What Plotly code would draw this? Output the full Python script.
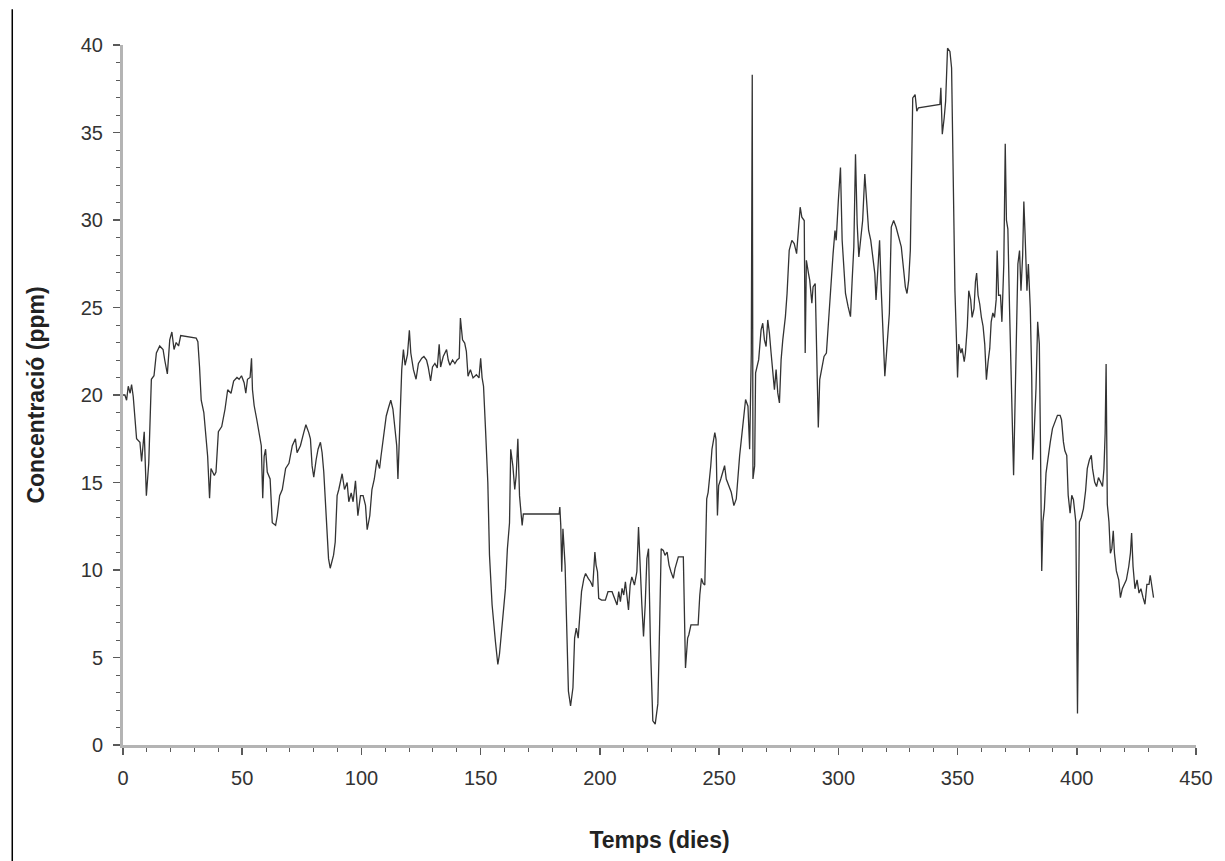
import plotly.graph_objects as go

# Time (days) and concentration (ppm)
dies = [
    0.0, 0.8, 1.5, 2.2, 3.0, 3.6, 4.3, 5.7, 7.1, 7.8, 8.9, 9.8, 10.8, 11.9, 13.0, 14.0, 15.4, 16.8,
    17.5, 18.6, 19.6, 20.5, 21.4, 22.3, 23.3, 24.2, 30.7, 31.4, 32.1, 32.8, 33.9, 34.4, 35.5, 36.3,
    36.9, 38.3, 39.0, 40.0, 41.4, 42.8, 43.9, 45.3, 46.4, 47.8, 48.7, 49.7, 50.8, 51.5, 52.2, 53.3,
    53.9, 54.3, 55.0, 56.1, 57.1, 58.0, 58.6, 59.2, 59.8, 60.5, 61.7, 62.6, 64.0, 64.7, 65.7, 66.8,
    68.2, 69.6, 71.0, 72.3, 73.0, 74.4, 75.8, 76.7, 77.9, 78.6, 79.3, 80.0, 81.0, 81.8, 82.8, 83.5,
    84.2, 85.3, 86.2, 86.9, 88.3, 89.0,
    89.8, 90.5, 91.9, 92.9, 94.0, 94.7, 95.7, 96.5, 97.5, 98.5, 99.6, 100.7, 101.7, 102.4, 103.5,
    104.4, 105.4, 106.5, 107.6, 108.2, 109.3, 110.4, 111.4, 112.3, 113.2, 114.1, 114.8, 115.3, 116.2,
    116.9, 117.6, 118.3, 119.3, 120.1, 120.7, 121.8, 122.9, 123.9, 125.3, 126.2, 127.3, 128.0, 129.0,
    129.8, 130.8, 131.8, 132.6, 133.2, 134.3, 135.7, 136.4, 137.1, 138.2, 139.2, 140.1, 141.0, 141.5,
    142.4, 143.3, 144.0, 144.7, 145.7, 146.8, 148.2, 149.3, 150.0, 150.6, 151.2, 152.1, 153.0, 153.7,
    154.8, 156.2, 157.2, 157.9, 158.6, 159.6, 160.4, 161.2, 162.1, 162.6, 163.5, 164.3, 164.9, 165.6,
    166.3, 166.9, 167.4, 167.9, 182.5,
    182.9, 183.2, 183.6, 184.0, 184.5, 185.4, 185.9, 186.8, 187.7, 188.7, 189.4, 190.1, 190.9, 191.5,
    192.3, 193.3, 194.0, 195.1, 196.1, 197.0, 197.9, 198.4, 199.0, 199.5, 200.7, 202.3, 203.4, 205.1,
    206.2, 207.2, 207.9, 208.6, 209.3, 210.0, 210.7, 211.4, 212.0, 212.7, 213.4, 214.5, 215.5, 216.2,
    216.9, 217.6, 218.3, 219.0, 219.7, 220.4, 221.2, 222.2, 223.2, 224.3, 224.8, 225.7, 226.6, 227.3,
    228.2, 229.0, 229.8, 230.8, 231.5, 232.2, 232.9, 235.0, 235.4, 235.9, 236.8, 237.3, 238.2, 241.2,
    241.9, 242.6, 243.3, 244.0, 244.8, 245.4, 246.5, 247.0, 248.2, 248.7, 249.3, 249.8, 250.7, 251.6,
    252.3, 253.0, 254.0, 255.1, 256.2,
    257.2, 258.6, 260.0, 261.1, 262.1, 262.8, 263.5, 263.9, 264.2, 264.9, 265.3, 265.8, 266.6, 267.6,
    268.3, 269.0, 269.7, 270.4, 271.1, 271.8, 272.5, 273.2, 273.9, 274.6, 275.3, 276.0, 276.7, 277.8,
    278.5, 279.4, 280.5, 281.5, 282.5, 283.3, 284.0, 284.7, 285.7, 286.1, 286.6, 287.5, 288.0, 288.9,
    289.4, 290.3, 290.8, 291.6, 292.2, 293.0, 294.0, 295.0, 295.8, 296.8, 297.8, 298.6, 299.1, 300.0,
    300.9, 301.6, 302.3, 303.0, 304.1, 305.1, 305.8, 306.5, 307.2, 307.9, 308.6, 309.3, 310.2, 311.1,
    311.9, 312.7, 313.6, 314.4, 315.3, 315.8, 316.6, 317.3, 318.0, 318.7, 319.5, 320.0, 320.8, 321.4,
    322.2, 323.2, 324.2, 325.3, 326.4, 327.4, 328.1, 328.8, 329.5, 330.2, 330.8, 331.2, 332.2, 332.9,
    333.6, 342.6, 343.0, 343.6, 344.4, 345.0, 345.8, 346.8, 347.5,
    348.2, 348.9, 349.6, 350.0, 350.5, 351.4, 351.9, 352.8, 353.3, 354.1, 354.7, 355.5, 356.1, 356.9,
    357.5, 358.0, 358.6, 359.3, 360.0, 360.7, 361.4, 362.1, 362.8, 363.5, 364.1, 364.8, 365.5, 366.2,
    366.6, 367.2, 368.0, 368.6, 369.4, 370.0, 370.5, 371.1, 371.8, 372.5, 372.9, 373.5, 373.9, 374.6,
    375.3, 376.0, 376.6, 377.3, 377.8, 378.3, 379.1, 379.7, 380.5, 381.1, 381.5, 382.2, 382.9, 383.6,
    384.3, 384.7, 385.3, 385.8, 386.4, 387.1, 387.8, 388.9, 389.8, 390.8, 391.9, 393.0, 393.6, 394.4,
    395.0, 395.8, 396.4, 397.2, 397.9, 398.6, 399.6, 400.3, 400.7, 401.1, 401.9, 402.8, 403.7, 404.4,
    405.3, 406.1, 406.6, 407.5, 408.3, 409.1, 410.0, 410.8, 411.4, 411.9, 412.3, 412.8, 413.5, 414.1,
    414.7, 415.3, 415.8, 416.6, 417.6, 418.3, 419.1, 420.0, 420.8, 421.8, 422.5, 423.0, 423.6, 424.4,
    425.3, 426.1, 426.9, 427.8, 428.6, 429.4, 430.3, 430.8, 431.6, 432.2,
]

concentracio = [
    20.0, 20.0, 19.7, 20.5, 20.1, 20.6, 19.9, 17.5, 17.3, 16.2, 17.9, 14.25, 16.1, 20.9, 21.1, 22.4,
    22.8, 22.6, 22.0, 21.2, 23.15, 23.6, 22.6, 23.0, 22.8, 23.4, 23.25, 23.05, 21.6, 19.7, 19.0, 18.2,
    16.5, 14.1, 15.8, 15.4, 15.6, 17.9, 18.2, 19.2, 20.3, 20.1, 20.8, 21.0, 20.9, 21.1, 20.7, 20.1,
    20.9, 21.0, 22.1, 20.3, 19.4, 18.6, 17.7, 17.1, 14.1, 16.5, 16.9, 15.6, 15.2, 12.7, 12.55, 13.1,
    14.25, 14.6, 15.8, 16.1, 17.1, 17.5, 16.7, 17.1, 17.85, 18.3, 17.85, 17.5, 15.95, 15.3, 16.3,
    16.9, 17.3, 16.7, 15.6, 13.1, 10.65, 10.1, 10.85, 11.6,
    14.25, 14.6, 15.5, 14.6, 15.0, 13.9, 14.4, 13.9, 15.1, 13.1, 14.25, 14.25, 13.7, 12.3, 13.1,
    14.6, 15.2, 16.3, 15.8, 16.5, 17.7, 18.8, 19.3, 19.7, 19.2, 18.0, 17.1, 15.2, 18.4, 21.45, 22.6,
    21.7, 22.3, 23.7, 22.4, 21.45, 20.9, 21.8, 22.1, 22.2, 22.0, 21.6, 20.8, 21.6, 21.8, 21.55, 22.9,
    21.6, 22.2, 22.6, 22.0, 21.7, 22.0, 21.8, 22.0, 22.1, 24.4, 23.15, 22.97, 22.5, 21.07, 21.45,
    20.98, 21.16, 20.98, 22.1, 20.98, 20.5, 17.85, 15.0, 10.85, 8.0, 5.9, 4.6, 5.2, 6.3, 7.8, 8.95,
    11.2, 12.7, 16.9, 15.95, 14.6, 15.4, 17.5, 14.25, 13.3, 12.55, 13.2, 13.2,
    13.2, 13.6, 12.55, 9.9, 12.36, 10.28, 7.05, 3.08, 2.23, 3.27, 6.11, 6.68, 6.11, 7.43, 8.76, 9.52,
    9.8, 9.52, 9.33, 9.05, 11.03, 10.28, 9.9, 8.38, 8.28, 8.28, 8.76, 8.76, 8.38, 8.0, 8.76, 8.19,
    8.95, 8.57, 9.33, 8.19, 7.72, 9.14, 9.61, 9.14, 9.9, 12.45, 9.9, 8.0, 6.2, 8.0, 10.65, 11.22,
    5.73, 1.38, 1.19, 2.35, 5.16, 11.22, 11.12, 10.84, 11.03, 10.28, 9.9, 9.52, 10.08, 10.46, 10.75,
    10.75, 8.38, 4.4, 6.11, 6.3, 6.86, 6.86, 8.57, 9.52, 9.23, 9.14, 14.06, 14.44, 15.96, 16.9, 17.85,
    17.47, 13.11, 14.82, 15.2, 15.58, 15.96, 15.2, 14.82, 14.44, 13.68,
    14.06, 16.52, 18.42, 19.74, 19.36, 16.9, 22.4, 38.3, 15.2, 15.95, 21.26, 21.64, 22.02, 23.72,
    24.1, 23.15, 22.77, 24.29, 23.53, 22.4, 21.26, 20.31, 21.45, 20.12, 19.55, 22.02, 23.15, 24.48,
    25.8, 28.27, 28.84, 28.65, 28.08, 29.6, 30.73, 30.16, 29.97, 22.4, 27.7, 26.94, 26.56, 25.24,
    26.18, 26.37, 23.15, 18.14, 20.88, 21.45, 22.2, 22.4, 24.1, 26.37, 28.08, 29.4, 28.84, 31.1,
    33.0, 28.84, 27.32, 25.8, 25.05, 24.48, 26.56, 28.46, 33.76, 29.78, 27.89, 28.84, 29.97, 32.62,
    31.1, 29.4, 28.84, 27.89, 26.94, 25.43, 26.94, 28.84, 26.0, 23.15, 21.07, 22.0, 23.72, 24.67,
    29.6, 29.97, 29.6, 29.03, 28.46, 27.13, 26.18, 25.8, 26.56, 28.27, 34.52, 36.98, 37.17, 36.22,
    36.41, 36.6, 37.55, 34.9, 35.84, 36.79, 39.82, 39.63, 38.69,
    31.25, 25.96, 22.91, 21.0, 22.91, 22.4, 22.66, 21.9, 22.4, 23.93, 25.96, 25.45, 24.43, 24.94,
    26.47, 26.97, 25.7, 25.2, 24.43, 23.93, 22.91, 20.88, 21.9, 22.66, 24.18, 24.69, 24.43, 25.45,
    28.25, 25.7, 25.7, 24.18, 27.49, 34.35, 29.99, 29.48, 24.94, 20.88, 17.32, 15.41, 18.08, 23.93,
    27.49, 28.25, 25.96, 27.99, 31.05, 29.24, 25.96, 27.49, 24.94, 21.13, 16.3, 18.08, 20.37, 24.18,
    22.91, 18.08, 9.95, 12.75, 13.51, 15.54, 16.3, 17.32, 18.08, 18.46, 18.84, 18.84, 18.59, 17.32,
    16.81, 16.55, 14.27, 13.25, 14.27, 14.02, 12.75, 1.8, 9.7, 12.75, 13.0, 13.51, 14.53, 15.79,
    16.3, 16.55, 15.79, 15.03, 14.77, 15.28, 15.03, 14.77, 15.79, 17.83, 21.77, 13.76, 12.75, 10.96,
    11.22, 12.24, 10.96, 9.95, 9.44, 8.42, 8.93, 9.18, 9.44, 10.2, 10.96, 12.11, 10.2, 8.93,
    9.44, 8.68, 8.93, 8.42, 8.04, 9.18, 9.18, 9.7, 8.93, 8.42,
]

x_tickvals = [0, 50, 100, 150, 200, 250, 300, 350, 400, 450]
y_tickvals = [0, 5, 10, 15, 20, 25, 30, 35, 40]
x_title = "Temps (dies)"
y_title = "Concentració (ppm)"

FONT = "Liberation Sans, Arial, Helvetica, sans-serif"
AXIS_LINE = "#b4b4b4"
TICK = "#5a5a5a"

fig = go.Figure()
fig.add_trace(go.Scatter(
    x=dies, y=concentracio, mode="lines",
    line=dict(color="#333333", width=1.3),
    showlegend=False, hoverinfo="x+y",
))

common = dict(showgrid=False, zeroline=False, tickmode="array")

fig.update_layout(
    width=1225, height=861,
    margin=dict(l=123, r=22, t=45, b=113),
    paper_bgcolor="white", plot_bgcolor="white",
    font=dict(family=FONT, color="#333333"),
    xaxis=dict(
        range=[0, 450], tickvals=x_tickvals, **common,
        showline=True, linecolor=AXIS_LINE, linewidth=3,
        ticks="outside", ticklen=7, tickwidth=1.5, tickcolor=TICK,
        minor=dict(tickmode="linear", tick0=0, dtick=10, ticks="outside",
                   ticklen=4, tickwidth=1, tickcolor=TICK),
        tickfont=dict(family=FONT, size=20, color="#333333"),
        ticklabelstandoff=6, ticklabeloverflow="allow",
        title=dict(text="<b>" + x_title + "</b>", standoff=44,
                   font=dict(family=FONT, size=23, color="#222222")),
    ),
    yaxis=dict(
        range=[0, 40], tickvals=y_tickvals, **common,
        showline=True, linecolor=AXIS_LINE, linewidth=3,
        ticks="outside", ticklen=7, tickwidth=1.5, tickcolor=TICK,
        minor=dict(tickmode="linear", tick0=0, dtick=1, ticks="outside",
                   ticklen=4, tickwidth=1, tickcolor=TICK),
        tickfont=dict(family=FONT, size=20, color="#333333"),
        ticklabelstandoff=6,
        title=dict(text="<b>" + y_title + "</b>", standoff=30,
                   font=dict(family=FONT, size=23, color="#222222")),
    ),
    xaxis2=dict(
        overlaying="x", anchor="y", side="bottom", range=[0, 450],
        tickvals=x_tickvals, **common, showline=False, showticklabels=False,
        ticks="inside", ticklen=6, tickwidth=1.5, tickcolor=TICK,
    ),
    yaxis2=dict(
        overlaying="y", anchor="x", side="left", range=[0, 40],
        tickvals=y_tickvals, **common, showline=False, showticklabels=False,
        ticks="inside", ticklen=6, tickwidth=1.5, tickcolor=TICK,
    ),
    shapes=[dict(type="line", xref="paper", yref="paper",
                 x0=-0.1032, x1=-0.1032, y0=1.051, y1=-0.17,
                 line=dict(color="black", width=1.5))],
)

# Remove the default page margin so the figure fills the window exactly
page_fix = (
    "document.body.style.margin='0';"
    "document.body.style.overflow='hidden';"
    "document.documentElement.style.overflow='hidden';"
)
fig.write_html("out.html", post_script=page_fix,
               config={"displayModeBar": False, "staticPlot": True})
